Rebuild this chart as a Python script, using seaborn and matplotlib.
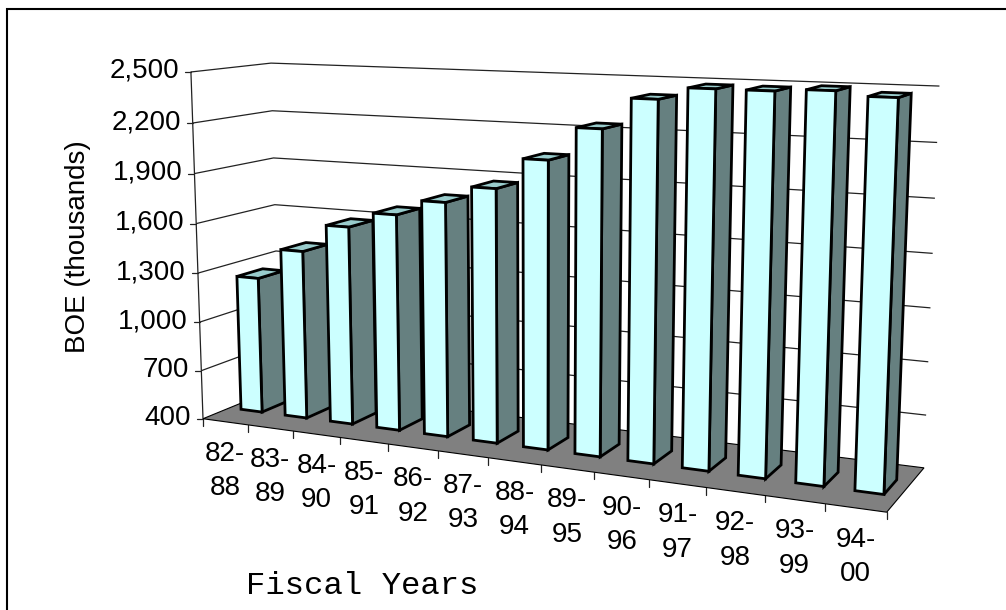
import numpy as np
import matplotlib
matplotlib.use("Agg")
import matplotlib.pyplot as plt
from matplotlib.patches import Polygon
from matplotlib.transforms import Transform
import seaborn as sns

periods = ["82-\n88", "83-\n89", "84-\n90", "85-\n91", "86-\n92", "87-\n93", "88-\n94",
           "89-\n95", "90-\n96", "91-\n97", "92-\n98", "93-\n99", "94-\n00"]
boe_thousands = [1238, 1428, 1598, 1692, 1785, 1884, 2062, 2250, 2423, 2490, 2490, 2503, 2480]
value_ticks = [400, 700, 1000, 1300, 1600, 1900, 2200, 2500]

FRONT_FACE_COLOR = "#CCFFFF"
SIDE_FACE_COLOR = "#668080"
TOP_FACE_COLOR = "#99CCCC"
FLOOR_COLOR = "#808080"
BAR_WIDTH = 0.48
BAR_FRONT, BAR_BACK = 1 / 3, 2 / 3

# Camera of the 3-D box, calibrated from where its eight corners fall on the canvas.
X_MIN, X_MAX = -0.5, 12.5
Z_MIN, Z_MAX = value_ticks[0], value_ticks[-1]
box_corners = [
    ((X_MIN, 0, Z_MIN), (203.5, 418)), ((X_MAX, 0, Z_MIN), (888, 512)),
    ((X_MAX, 1, Z_MIN), (923, 468)), ((X_MIN, 1, Z_MIN), (279, 388)),
    ((X_MIN, 0, Z_MAX), (190, 71)), ((X_MAX, 0, Z_MAX), (901, 101)),
    ((X_MAX, 1, Z_MAX), (940, 84)), ((X_MIN, 1, Z_MAX), (272, 64)),
]


def unit_world(x, d, z):
    return (np.asarray(x, float) - X_MIN) / (X_MAX - X_MIN), np.asarray(d, float), \
        (np.asarray(z, float) - Z_MIN) / (Z_MAX - Z_MIN)


def fit_camera(corners):
    rows = []
    for (x, d, z), (px, py) in corners:
        u, v, w = unit_world(x, d, z)
        h = [float(u), float(v), float(w), 1.0]
        px, py = px / 1000, py / 1000
        rows.append(h + [0, 0, 0, 0] + [-px * c for c in h])
        rows.append([0, 0, 0, 0] + h + [-py * c for c in h])
    return np.linalg.svd(np.array(rows))[2][-1].reshape(3, 4)


CAMERA = fit_camera(box_corners)


def project(x, d, z):
    u, v, w = unit_world(x, d, z)
    h = np.stack([u, v, w, np.ones_like(u)], axis=-1)
    q = h @ CAMERA.T
    return q[..., :2] / q[..., 2:] * 1000


class DepthPlane(Transform):
    """Maps (category position, value) on a plane of constant depth to canvas pixels."""
    input_dims = output_dims = 2
    is_separable = False
    has_inverse = False

    def __init__(self, plane_depth):
        super().__init__()
        self.plane_depth = plane_depth

    def transform_non_affine(self, values):
        values = np.asarray(values, float)
        return project(values[:, 0], np.full(len(values), self.plane_depth), values[:, 1])


sns.set_theme(style="white")
plt.rcParams["font.family"] = ["Liberation Sans", "DejaVu Sans"]

fig = plt.figure(figsize=(10.06, 6.10), dpi=100)
ax = fig.add_axes([0, 0, 1, 1])
sns.barplot(x=list(range(len(boe_thousands))), y=boe_thousands, width=BAR_WIDTH, ax=ax,
            color=FRONT_FACE_COLOR, saturation=1, native_scale=True, legend=False)
ax.set_xlim(0, 1006)
ax.set_ylim(610, 0)
ax.axis("off")

# Floor and the gridlines running round the left and back walls
floor = project(np.array([X_MIN, X_MAX, X_MAX, X_MIN]), np.array([0, 0, 1, 1]), np.full(4, Z_MIN))
ax.add_patch(Polygon(floor, closed=True, fc=FLOOR_COLOR, ec="black", lw=0.8, zorder=1))
for tick in value_ticks:
    wall = project(np.array([X_MIN, X_MIN, X_MAX]), np.array([0, 1, 1]), np.full(3, tick))
    if tick > Z_MIN:
        ax.plot(wall[:, 0], wall[:, 1], color="#222222", lw=0.9, zorder=0.5, solid_capstyle="butt")
    ax.plot([wall[0, 0] - 6, wall[0, 0]], [wall[0, 1], wall[0, 1]], color="#222222", lw=0.9, zorder=0.5)
    ax.text(wall[0, 0] - 12, wall[0, 1] - 1, f"{tick:,}", ha="right", va="center",
            fontsize=20, color="black")
axis_line = project(np.array([X_MIN, X_MIN]), np.zeros(2), np.array([Z_MIN, Z_MAX]))
ax.plot(axis_line[:, 0], axis_line[:, 1], color="#222222", lw=0.9, zorder=0.6)

# Category ticks along the front edge of the floor, labels hung below each slot
for i in range(len(periods) + 1):
    p = project(np.array([X_MIN + i]), np.zeros(1), np.array([Z_MIN]))[0]
    ax.plot([p[0], p[0]], [p[1], p[1] + 7], color="#222222", lw=0.9, zorder=0.6)
for i, label in enumerate(periods):
    p = project(np.array([float(i)]), np.zeros(1), np.array([Z_MIN]))[0]
    ax.text(p[0], p[1] + 49, label, ha="center", va="center", fontsize=20,
            linespacing=1.42, color="black")

# Each bar: seaborn's rectangle becomes the front face, side and top are added behind it
front_plane = DepthPlane(BAR_FRONT)
for k, bar in enumerate(ax.patches[:len(boe_thousands)]):
    left, right = bar.get_x(), bar.get_x() + bar.get_width()
    value = bar.get_height()
    bar.set_y(Z_MIN)
    bar.set_height(value - Z_MIN)
    bar.set_transform(front_plane + ax.transData)
    bar.set(edgecolor="black", linewidth=2.0, joinstyle="miter", zorder=3 + 3 * k + 2)
    side = project(np.full(4, right), np.array([BAR_FRONT, BAR_BACK, BAR_BACK, BAR_FRONT]),
                   np.array([Z_MIN, Z_MIN, value, value]))
    top = project(np.array([left, right, right, left]),
                  np.array([BAR_FRONT, BAR_FRONT, BAR_BACK, BAR_BACK]), np.full(4, value))
    ax.add_patch(Polygon(side, closed=True, fc=SIDE_FACE_COLOR, ec="black", lw=2.0, joinstyle="miter", zorder=3 + 3 * k))
    ax.add_patch(Polygon(top, closed=True, fc=TOP_FACE_COLOR, ec="black", lw=2.0, joinstyle="miter", zorder=3 + 3 * k + 1))

ax.text(78, 247, "BOE (thousands)", rotation=90, ha="center", va="center", fontsize=20, color="black")
ax.text(362, 586, "Fiscal Years", ha="center", va="center", fontsize=23.2, family="Liberation Mono", color="black")

# Outer chart frame: left and top edges only, the others run off the canvas
ax.plot([7, 7, 1006], [610, 8.5, 8.5], color="black", lw=1.5, zorder=1, solid_joinstyle="miter")

fig.savefig("out.png", dpi=100)
